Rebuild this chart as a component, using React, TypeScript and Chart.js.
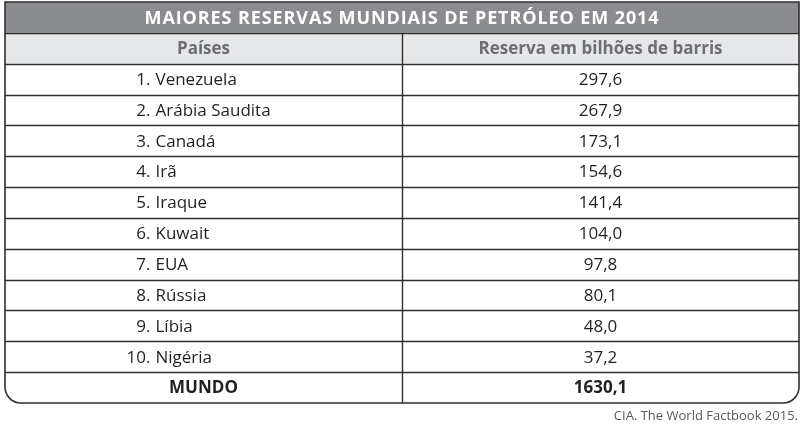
import React, { useEffect, useRef } from "react";
import { Chart, registerables } from "chart.js";

Chart.register(...registerables);

const TITLE = "MAIORES RESERVAS MUNDIAIS DE PETRÓLEO EM 2014";
const HEADERS = ["Países", "Reserva em bilhões de barris"];
const RANKS = [1, 2, 3, 4, 5, 6, 7, 8, 9, 10];
const COUNTRIES = [
  "Venezuela",
  "Arábia Saudita",
  "Canadá",
  "Irã",
  "Iraque",
  "Kuwait",
  "EUA",
  "Rússia",
  "Líbia",
  "Nigéria",
];
const RESERVES = [297.6, 267.9, 173.1, 154.6, 141.4, 104.0, 97.8, 80.1, 48.0, 37.2];
const TOTAL_LABEL = "MUNDO";
const TOTAL_VALUE = 1630.1;
const SOURCE = "CIA. The World Factbook 2015.";

const FONT = "'Open Sans', 'Noto Sans', 'DejaVu Sans', sans-serif";
const fmt = (v: number) => v.toFixed(1).replace(".", ",");

const ROW_KEYS = ["__title", "__header", ...COUNTRIES, TOTAL_LABEL];

const tablePlugin = {
  id: "tablePlugin",
  afterDraw(chart: any) {
    const ctx: any = chart.ctx;
    const x = chart.scales.x;
    const y = chart.scales.y;
    const area = chart.chartArea;
    const n = ROW_KEYS.length;
    const step = y.getPixelForValue(1) - y.getPixelForValue(0);
    const bandTop = (i: number) => y.getPixelForValue(i) - step / 2;
    const left = area.left;
    const right = area.right;
    const top = area.top;
    const bottom = area.bottom;
    const mid = x.getPixelForValue(1);
    const c1 = x.getPixelForValue(0.5);
    const c2 = x.getPixelForValue(1.5);
    const r = 16;

    ctx.save();
    // backgrounds
    ctx.fillStyle = "#8b8c8f";
    ctx.fillRect(left, top, right - left, bandTop(1) - top);
    ctx.fillStyle = "#e6e7e8";
    ctx.fillRect(left, bandTop(1), right - left, bandTop(2) - bandTop(1));

    // horizontal separators
    ctx.strokeStyle = "#2f2f30";
    ctx.lineWidth = 1.4;
    for (let i = 1; i < n; i++) {
      const yy = Math.round(bandTop(i)) + 0.5;
      ctx.beginPath();
      ctx.moveTo(left, yy);
      ctx.lineTo(right, yy);
      ctx.stroke();
    }
    // vertical divider
    ctx.beginPath();
    ctx.moveTo(Math.round(mid) + 0.5, bandTop(1));
    ctx.lineTo(Math.round(mid) + 0.5, bottom);
    ctx.stroke();

    // outer border with rounded bottom corners
    ctx.beginPath();
    ctx.moveTo(left, top);
    ctx.lineTo(right, top);
    ctx.lineTo(right, bottom - r);
    ctx.arcTo(right, bottom, right - r, bottom, r);
    ctx.lineTo(left + r, bottom);
    ctx.arcTo(left, bottom, left, bottom - r, r);
    ctx.closePath();
    ctx.lineWidth = 1.6;
    ctx.stroke();

    // title
    ctx.textBaseline = "middle";
    ctx.textAlign = "center";
    ctx.fillStyle = "#ffffff";
    ctx.font = `bold 18px ${FONT}`;
    ctx.letterSpacing = "0.9px";
    ctx.fillText(TITLE, (left + right) / 2, y.getPixelForValue(0) + 1);
    ctx.letterSpacing = "0px";

    // headers
    ctx.fillStyle = "#6d6e71";
    ctx.font = `bold 17px ${FONT}`;
    ctx.fillText(HEADERS[0], c1, y.getPixelForValue(1) + 1);
    ctx.fillText(HEADERS[1], c2, y.getPixelForValue(1) + 1);

    // body rows
    ctx.fillStyle = "#231f20";
    ctx.font = `17px ${FONT}`;
    const rankRight = c1 - 53;
    for (let k = 0; k < COUNTRIES.length; k++) {
      const yy = y.getPixelForValue(k + 2) + 1;
      ctx.textAlign = "right";
      ctx.fillText(`${RANKS[k]}.`, rankRight, yy);
      ctx.textAlign = "left";
      ctx.fillText(COUNTRIES[k], rankRight + 5, yy);
      ctx.textAlign = "center";
      ctx.fillText(fmt(RESERVES[k]), c2, yy);
    }

    // total row
    ctx.font = `bold 17px ${FONT}`;
    const ty = y.getPixelForValue(n - 1) + 1;
    ctx.textAlign = "center";
    ctx.fillText(TOTAL_LABEL, c1, ty);
    ctx.fillText(fmt(TOTAL_VALUE), c2, ty);

    // source
    ctx.font = `13px ${FONT}`;
    ctx.fillStyle = "#58595b";
    ctx.textAlign = "right";
    ctx.fillText(SOURCE, right - 1, bottom + 13);
    ctx.restore();
  },
};

export default function App() {
  const ref = useRef<HTMLCanvasElement | null>(null);
  useEffect(() => {
    if (!ref.current) return;
    const chart = new Chart(ref.current, {
      type: "bar",
      data: {
        labels: ROW_KEYS,
        datasets: [
          {
            data: [null, null, ...RESERVES.map(() => null), null],
            backgroundColor: "rgba(0,0,0,0)",
          },
        ],
      },
      options: {
        indexAxis: "y",
        responsive: false,
        animation: false,
        devicePixelRatio: 1,
        layout: { padding: { left: 5, right: 8, top: 2, bottom: 23 } },
        plugins: { legend: { display: false }, tooltip: { enabled: false } },
        scales: {
          x: { type: "linear", min: 0, max: 2, display: false },
          y: { type: "category", offset: true, display: false },
        },
      },
      plugins: [tablePlugin],
    } as any);
    return () => chart.destroy();
  }, []);
  return (
    <div style={{ position: "fixed", left: 0, top: 0, width: 807, height: 426, background: "#fff" }}>
      <canvas ref={ref} width={807} height={426} style={{ display: "block" }} />
    </div>
  );
}
